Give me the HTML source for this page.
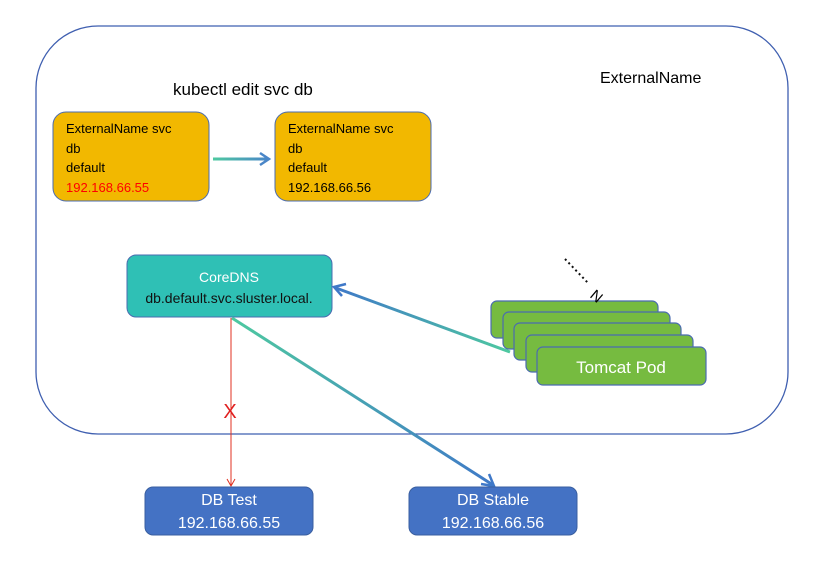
<!DOCTYPE html><html><head><style>body{margin:0;background:#fff;width:820px;height:561px;overflow:hidden;font-family:"Liberation Sans",sans-serif}</style></head><body>
<svg width="820" height="561" xmlns="http://www.w3.org/2000/svg">
<defs>
<linearGradient id="g1" gradientUnits="userSpaceOnUse" x1="213" y1="159" x2="268" y2="159"><stop offset="0" stop-color="#4ec9a0"/><stop offset="1" stop-color="#4a86c8"/></linearGradient>
<linearGradient id="g2" gradientUnits="userSpaceOnUse" x1="232" y1="318" x2="495" y2="487"><stop offset="0" stop-color="#4ec9a0"/><stop offset="1" stop-color="#3f78c8"/></linearGradient>
<linearGradient id="g3" gradientUnits="userSpaceOnUse" x1="510" y1="352" x2="334" y2="287"><stop offset="0" stop-color="#4ec9a0"/><stop offset="1" stop-color="#3f78c8"/></linearGradient>
</defs>
<rect x="36" y="26" width="752" height="408" rx="62" fill="none" stroke="#3f5fb0" stroke-width="1.3"/>
<text x="173" y="95" font-size="17">kubectl edit svc db</text>
<text x="600" y="83" font-size="16">ExternalName</text>
<rect x="53" y="112" width="156" height="89" rx="13" fill="#f2b800" stroke="#4a6bb0"/>
<g font-size="13"><text x="66" y="133">ExternalName svc</text><text x="66" y="153">db</text><text x="66" y="172">default</text><text x="66" y="192" fill="#f00">192.168.66.55</text></g>
<rect x="275" y="112" width="156" height="89" rx="13" fill="#f2b800" stroke="#4a6bb0"/>
<g font-size="13"><text x="288" y="133">ExternalName svc</text><text x="288" y="153">db</text><text x="288" y="172">default</text><text x="288" y="192">192.168.66.56</text></g>
<line x1="213" y1="159" x2="268" y2="159" stroke="url(#g1)" stroke-width="3"/>
<path d="M260 153 L269 159 L260 165" fill="none" stroke="#4a86c8" stroke-width="2.5"/>
<rect x="127" y="255" width="205" height="62" rx="9" fill="#2fc0b5" stroke="#4a6bb0"/>
<text x="229" y="282" font-size="14" fill="#fff" text-anchor="middle">CoreDNS</text>
<text x="229" y="303" font-size="14" fill="#111" text-anchor="middle">db.default.svc.sluster.local.</text>
<line x1="231" y1="318" x2="231" y2="485" stroke="#e03020" stroke-width="1"/>
<path d="M227 479 L231 486 L235 479" fill="none" stroke="#e03020"/>
<text x="230" y="418" font-size="20" fill="#e02020" text-anchor="middle">X</text>
<line x1="232" y1="318" x2="493" y2="485" stroke="url(#g2)" stroke-width="3"/>
<path d="M481 484 L494 486 L489 474" fill="none" stroke="#3f78c8" stroke-width="2.5"/>
<line x1="510" y1="352" x2="336" y2="288" stroke="url(#g3)" stroke-width="3"/>
<path d="M346 284 L334 287 L342 296" fill="none" stroke="#3f78c8" stroke-width="2.5"/>
<g fill="#76bb40" stroke="#4a6bb0" stroke-width="1.2">
<rect x="491" y="301" width="167" height="37" rx="6"/>
<rect x="503" y="312" width="167" height="37" rx="6"/>
<rect x="514" y="323" width="167" height="37" rx="6"/>
<rect x="526" y="335" width="167" height="37" rx="6"/>
<rect x="537" y="347" width="169" height="38" rx="6"/>
</g>
<text x="621" y="373" font-size="17" fill="#fff" text-anchor="middle">Tomcat Pod</text>
<line x1="565" y1="259" x2="589" y2="284" stroke="#111" stroke-width="2" stroke-dasharray="2 3"/>
<text x="593" y="298" font-size="15" transform="rotate(40 593 292)">N</text>
<rect x="145" y="487" width="168" height="48" rx="8" fill="#4472c4" stroke="#3a5fa0"/>
<text x="229" y="505" font-size="16" fill="#fff" text-anchor="middle">DB Test</text>
<text x="229" y="528" font-size="16" fill="#fff" text-anchor="middle">192.168.66.55</text>
<rect x="409" y="487" width="168" height="48" rx="8" fill="#4472c4" stroke="#3a5fa0"/>
<text x="493" y="505" font-size="16" fill="#fff" text-anchor="middle">DB Stable</text>
<text x="493" y="528" font-size="16" fill="#fff" text-anchor="middle">192.168.66.56</text>
</svg></body></html>
